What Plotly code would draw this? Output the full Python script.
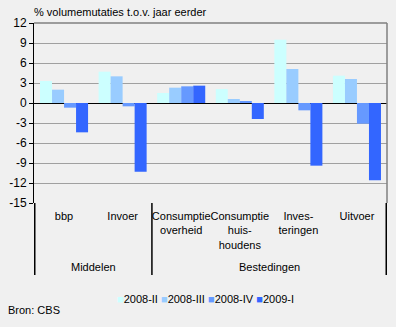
import plotly.graph_objects as go

categories = ["bbp", "Invoer", "Consumptie<br>overheid", "Consumptie<br>huis-<br>houdens", "Inves-<br>teringen", "Uitvoer"]
groups = ["Middelen", "Bestedingen"]
series_names = ["2008-II", "2008-III", "2008-IV", "2009-I"]
v_2008_II = [3.3, 4.7, 1.5, 2.1, 9.5, 4.1]
v_2008_III = [2.0, 4.0, 2.3, 0.6, 5.1, 3.6]
v_2008_IV = [-0.7, -0.5, 2.5, 0.3, -1.1, -3.1]
v_2009_I = [-4.4, -10.3, 2.6, -2.4, -9.4, -11.6]
y_ticks = [12, 9, 6, 3, 0, -3, -6, -9, -12, -15]

colors = ["#CCFFFF", "#99CCFF", "#6699FF", "#3366FF"]
values = [v_2008_II, v_2008_III, v_2008_IV, v_2009_I]

FONT = "Liberation Sans, Arial, sans-serif"
fig = go.Figure()
for name, vals, c in zip(series_names, values, colors):
    fig.add_trace(go.Bar(x=categories, y=vals, name=name, marker=dict(color=c, line=dict(width=0))))

fig.update_layout(
    width=396, height=327,
    margin=dict(l=34, r=9, t=23, b=124),
    paper_bgcolor="#F0F0F0", plot_bgcolor="#F0F0F0",
    font=dict(family=FONT, size=11, color="black"),
    barmode="group", bargap=0.18, bargroupgap=0,
    showlegend=False,
)
fig.update_xaxes(showgrid=False, showline=False, ticks="", tickangle=0, tickfont=dict(size=11), ticklabelstandoff=5)
fig.update_yaxes(range=[-15, 12], tickvals=y_ticks, ticktext=[str(t) for t in y_ticks],
                 showgrid=True, gridcolor="#A0A0A0", gridwidth=1,
                 zeroline=True, zerolinecolor="black", zerolinewidth=1,
                 showline=True, linecolor="black", linewidth=1,
                 ticks="outside", ticklen=4, tickcolor="black", tickfont=dict(size=12))

# grey frame top and right
fig.add_shape(type="line", xref="paper", yref="paper", x0=0, x1=1, y0=1, y1=1, line=dict(color="#808080", width=1.5))
fig.add_shape(type="line", xref="paper", yref="paper", x0=1, x1=1, y0=0, y1=1, line=dict(color="#808080", width=1.5))
# category group dividers
for xv in [-0.5, 1.5, 5.5]:
    fig.add_shape(type="line", xref="x", yref="paper", x0=xv, x1=xv, y0=-0.4, y1=0, line=dict(color="black", width=1.5))

fig.add_annotation(text=groups[0], xref="x", yref="paper", x=0.5, y=-0.356, showarrow=False, yanchor="middle", font=dict(size=11))
fig.add_annotation(text=groups[1], xref="x", yref="paper", x=3.5, y=-0.356, showarrow=False, yanchor="middle", font=dict(size=11))
fig.add_annotation(text="% volumemutaties t.o.v. jaar eerder", xref="paper", yref="paper", x=-0.006, y=1.061,
                   xanchor="left", yanchor="middle", showarrow=False, font=dict(size=11))
fig.add_annotation(text="Bron: CBS", xref="paper", yref="paper", x=-0.0795, y=-0.594,
                   xanchor="left", yanchor="middle", showarrow=False, font=dict(size=11))

# compact legend
legend_text = " ".join(f"<span style='color:{c}'>■</span>{n}" for n, c in zip(series_names, colors))
fig.add_annotation(text=legend_text, xref="paper", yref="paper", x=(115 - 34) / 352, y=-0.533,
                   xanchor="left", yanchor="middle", showarrow=False, font=dict(size=11))

fig.write_html("out.html")
